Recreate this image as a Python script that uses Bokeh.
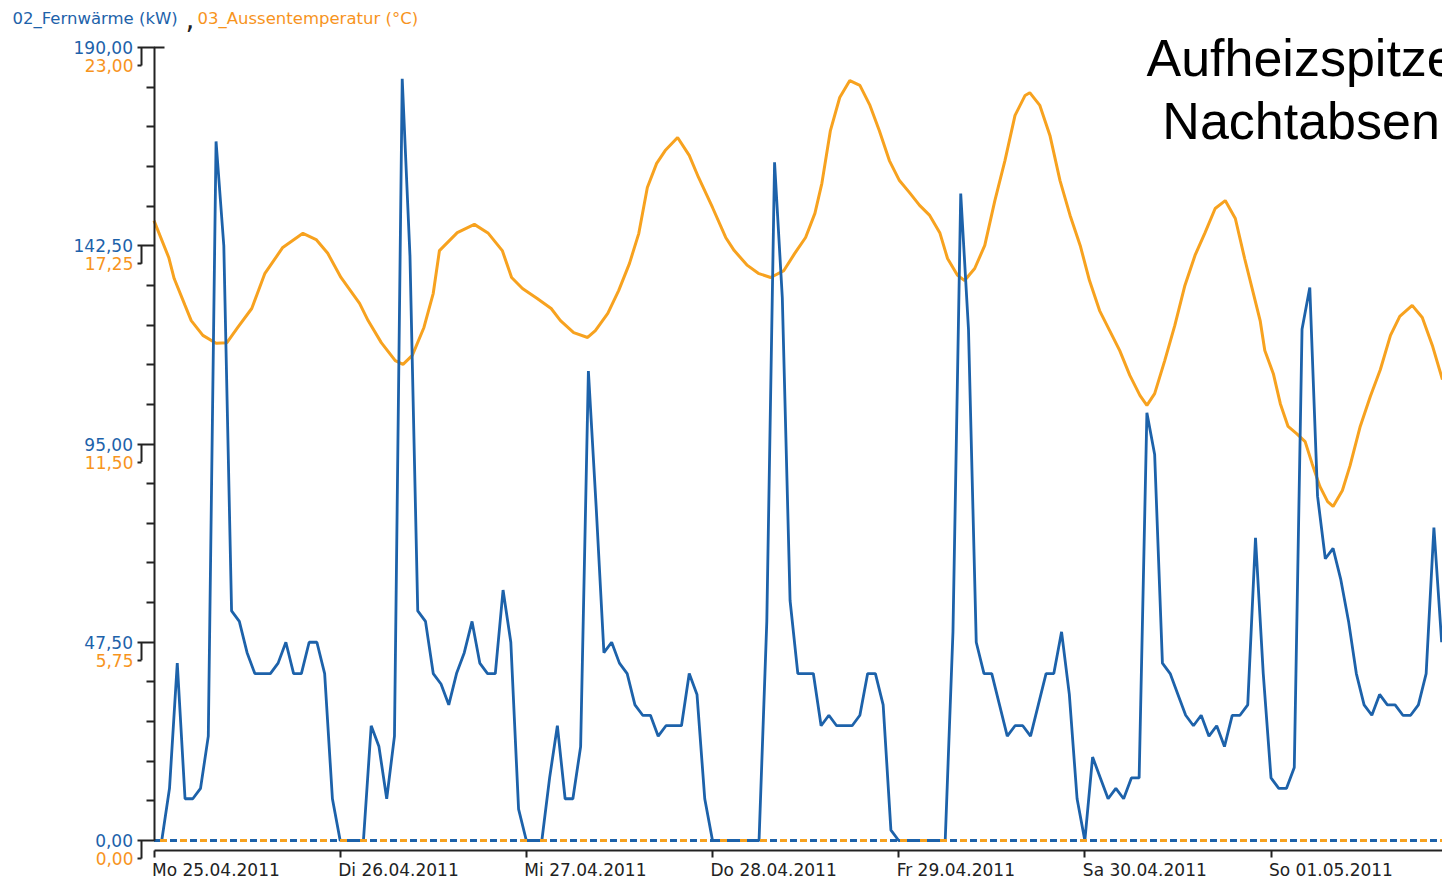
from bokeh.plotting import figure
from bokeh.models import Range1d, LinearAxis, FixedTicker, CustomJSTickFormatter
from bokeh.core.properties import value
from bokeh.embed import file_html
from bokeh.resources import INLINE

# 02_Fernwaerme: hourly district heating power (kW) starting Mo 25.04.2011 00:00
fernwaerme_kw = [
    0, 0, 12.5, 42.5, 10, 10, 12.5, 25, 167.5, 142.5, 55, 52.5, 45, 40, 40, 40,
    42.5, 47.5, 40, 40, 47.5, 47.5, 40, 10,
    0, 0, 0, 0, 27.5, 22.5, 10, 25, 182.5, 140, 55, 52.5, 40, 37.5, 32.5, 40,
    45, 52.5, 42.5, 40, 40, 60, 47.5, 7.5,
    0, 0, 0, 15, 27.5, 10, 10, 22.5, 112.5, 80, 45, 47.5, 42.5, 40, 32.5, 30,
    30, 25, 27.5, 27.5, 27.5, 40, 35, 10,
    0, 0, 0, 0, 0, 0, 0, 52.5, 162.5, 130, 57.5, 40, 40, 40, 27.5, 30,
    27.5, 27.5, 27.5, 30, 40, 40, 32.5, 2.5,
    0, 0, 0, 0, 0, 0, 0, 50, 155, 122.5, 47.5, 40, 40, 32.5, 25, 27.5,
    27.5, 25, 32.5, 40, 40, 50, 35, 10,
    0, 20, 15, 10, 12.5, 10, 15, 15, 102.5, 92.5, 42.5, 40, 35, 30, 27.5, 30,
    25, 27.5, 22.5, 30, 30, 32.5, 72.5, 40,
    15, 12.5, 12.5, 17.5, 122.5, 132.5, 82.5, 67.5, 70, 62.5, 52.5, 40, 32.5, 30, 35, 32.5,
    32.5, 30, 30, 32.5, 40, 75, 47.5,
]
kw_hours = list(range(len(fernwaerme_kw)))

# 03_Aussentemperatur: readings as (hours since Mo 00:00, degC)
temp_hours = [
    0.0, 1.9, 2.6, 4.0, 4.8, 6.3, 8.0, 9.4, 10.8, 12.6, 14.3, 16.6, 19.2, 20.9, 22.4,
    24.1, 26.5, 27.6, 29.3, 31.1, 32.1, 33.3, 34.8, 36.0, 36.8, 39.1, 41.3, 43.1, 44.9,
    46.1, 47.5, 49.4, 51.2, 52.4, 54.1, 55.9, 56.9, 58.5, 59.9, 61.3, 62.5, 63.6, 64.8,
    65.9, 67.5, 69.0, 70.2, 72.0, 73.7, 74.8, 76.5, 77.9, 79.5, 81.2, 82.6, 84.0, 85.2,
    86.1, 87.2, 88.4, 89.7, 91.0, 92.3, 93.5, 94.8, 96.1, 97.4, 98.7, 100.0, 101.3,
    102.3, 103.6, 104.5, 105.8, 107.1, 108.4, 109.7, 111.0, 112.3, 112.9, 114.2, 115.5,
    116.8, 118.1, 119.4, 120.6, 121.9, 123.2, 124.5, 125.8, 127.1, 128.0, 129.0, 130.3,
    131.6, 132.9, 134.2, 135.5, 136.8, 138.1, 139.4, 140.6, 141.7, 142.6, 143.2, 144.3,
    145.2, 146.2, 147.3, 148.4, 149.3, 150.3, 151.3, 152.0, 153.2, 154.2, 155.5, 156.8,
    158.1, 159.4, 160.6, 162.2, 163.5, 164.8, 166.1,
]
temp_c = [
    17.98, 16.91, 16.30, 15.52, 15.08, 14.65, 14.42, 14.44, 14.88, 15.43, 16.45, 17.20,
    17.61, 17.43, 17.03, 16.33, 15.58, 15.08, 14.44, 13.92, 13.81, 14.07, 14.88, 15.87,
    17.11, 17.63, 17.87, 17.61, 17.11, 16.33, 16.01, 15.72, 15.43, 15.08, 14.73, 14.59,
    14.79, 15.29, 15.95, 16.74, 17.61, 18.94, 19.64, 20.01, 20.39, 19.87, 19.23, 18.36,
    17.49, 17.11, 16.68, 16.45, 16.33, 16.53, 17.03, 17.49, 18.19, 19.06, 20.59, 21.55,
    22.04, 21.90, 21.32, 20.59, 19.72, 19.14, 18.79, 18.42, 18.13, 17.63, 16.88, 16.39,
    16.24, 16.59, 17.26, 18.56, 19.72, 21.03, 21.61, 21.69, 21.32, 20.45, 19.14, 18.13,
    17.26, 16.24, 15.37, 14.79, 14.21, 13.49, 12.91, 12.62, 12.96, 13.92, 14.94, 16.10,
    16.97, 17.63, 18.33, 18.56, 18.04, 16.88, 15.89, 15.08, 14.21, 13.54, 12.67, 12.01,
    11.80, 11.57, 10.93, 10.27, 9.83, 9.69, 10.15, 10.88, 12.01, 12.88, 13.66, 14.65,
    15.20, 15.52, 15.17, 14.36, 13.37,
]

kw_ticks = [0, 47.5, 95, 142.5, 190]
temp_ticks = [0, 5.75, 11.5, 17.25, 23]
day_ticks = [0, 24, 48, 72, 96, 120, 144]
day_labels = ["Mo 25.04.2011", "Di 26.04.2011", "Mi 27.04.2011", "Do 28.04.2011",
              "Fr 29.04.2011", "Sa 30.04.2011", "So 01.05.2011"]
legend_kw = "02_Fernwärme (kW)"
legend_temp = "03_Aussentemperatur (°C)"
note_lines = ["Aufheizspitzen bei", "Nachtabsenkung"]

BLUE = "#1d62aa"
ORANGE = "#f7a21f"
ORANGE_TXT = "#f7941d"
INK = "#222222"
W, H = 1442, 880

# page geometry: canvas pixel <-> data conversions
X0, PX_PER_H = 153.5, 7.757          # hour 0 column, pixels per hour
Y0 = 840.0                            # pixel row of the zero line
PX_PER_KW = 793.0 / kw_ticks[-1]
PX_PER_C = 793.0 / temp_ticks[-1]
LABEL_DROP = 18                       # second-scale labels sit this far below


def hx(px):
    return (px - X0) / PX_PER_H


def ky(py):
    return (Y0 - py) / PX_PER_KW


def ty(py, shift=0.0):
    return (Y0 + shift - py) / PX_PER_C


p = figure(width=W, height=H, output_backend="svg", toolbar_location=None,
           x_range=Range1d(hx(0), hx(W)), y_range=Range1d(ky(H), ky(0)),
           x_axis_type=None, y_axis_type=None, min_border=0,
           outline_line_color=None, background_fill_color="white",
           border_fill_color="white")
p.extra_y_ranges = {
    "temp": Range1d(ty(H), ty(0)),
    "temp_axis": Range1d(ty(H, LABEL_DROP), ty(0, LABEL_DROP)),
}

fmt = CustomJSTickFormatter(code="return tick.toFixed(2).replace('.', ',');")
font = "DejaVu Sans"

# series
p.line(temp_hours, temp_c, y_range_name="temp", line_color=ORANGE, line_width=3)
p.line(kw_hours, fernwaerme_kw, line_color=BLUE, line_width=2.8)

# dashed zero lines of both series
p.line([kw_hours[0], kw_hours[-1]], [0, 0], line_color=BLUE, line_width=3,
       line_dash="7 13", line_dash_offset=4)
p.line([temp_hours[0], temp_hours[-1]], [0, 0], y_range_name="temp",
       line_color=ORANGE, line_width=3, line_dash="7 13", line_dash_offset=14)

# kW axis
minor = []
for a, b in zip(kw_ticks[:-1], kw_ticks[1:]):
    step = (b - a) / 5
    minor += [a + step * k for k in range(1, 5)]
kw_axis = LinearAxis(fixed_location=0, bounds=(kw_ticks[0], kw_ticks[-1]),
                     ticker=FixedTicker(ticks=kw_ticks, minor_ticks=minor),
                     formatter=fmt, axis_line_color=INK, axis_line_width=2,
                     major_tick_out=17, major_tick_in=0, minor_tick_out=8, minor_tick_in=0,
                     major_tick_line_color=INK, major_tick_line_width=2,
                     minor_tick_line_color=INK, minor_tick_line_width=2,
                     major_label_standoff=4, major_label_text_color=BLUE,
                     major_label_text_font=font, major_label_text_font_size="17px")
p.add_layout(kw_axis, "left")

# temperature axis labels, hung below the kW ticks
t_axis = LinearAxis(y_range_name="temp_axis", fixed_location=hx(141),
                    ticker=FixedTicker(ticks=temp_ticks, minor_ticks=[]),
                    formatter=fmt, axis_line_color=None,
                    major_tick_out=4, major_tick_in=0, minor_tick_out=0, minor_tick_in=0,
                    major_tick_line_color=INK, major_tick_line_width=2,
                    major_label_standoff=4, major_label_text_color=ORANGE_TXT,
                    major_label_text_font=font, major_label_text_font_size="17px")
p.add_layout(t_axis, "left")

# bracket connectors between paired labels, and cap at the top of the axis
drop = LABEL_DROP / PX_PER_KW
p.segment(x0=[hx(141)] * len(kw_ticks), y0=kw_ticks,
          x1=[hx(141)] * len(kw_ticks), y1=[t - drop for t in kw_ticks],
          line_color=INK, line_width=2)
p.segment(x0=[0], y0=[kw_ticks[-1]], x1=[hx(164)], y1=[kw_ticks[-1]],
          line_color=INK, line_width=2)

# time axis
x_axis = LinearAxis(fixed_location=ky(849.5), bounds=(day_ticks[0], hx(W)),
                    ticker=FixedTicker(ticks=day_ticks, minor_ticks=[]),
                    formatter=CustomJSTickFormatter(code="return '';"),
                    axis_line_color=INK, axis_line_width=2,
                    major_tick_out=7, major_tick_in=0, minor_tick_out=0, minor_tick_in=0,
                    major_tick_line_color=INK, major_tick_line_width=2)
p.add_layout(x_axis, "below")
p.text(x=day_ticks, y=[ky(869)] * len(day_ticks), text=day_labels, x_offset=-2,
       text_align="left", text_baseline="middle", text_color=INK,
       text_font=value(font), text_font_size="17px")

# series names
p.text(x=[hx(12)], y=[ky(18)], text=[legend_kw], text_align="left",
       text_baseline="middle", text_color=BLUE, text_font=value(font),
       text_font_size="16.5px")
p.text(x=[hx(185)], y=[ky(18)], text=[","], text_align="left",
       text_baseline="middle", text_color=INK, text_font=value(font),
       text_font_size="28px")
p.text(x=[hx(197)], y=[ky(18)], text=[legend_temp], text_align="left",
       text_baseline="middle", text_color=ORANGE_TXT, text_font=value(font),
       text_font_size="16.5px")

# annotation
p.text(x=[hx(1357)] * 2, y=[ky(57), ky(120)], text=note_lines, text_align="center",
       text_baseline="middle", text_color="black",
       text_font=value("Liberation Sans"), text_font_size="52px")

open("out.html", "w").write(file_html(p, INLINE))
